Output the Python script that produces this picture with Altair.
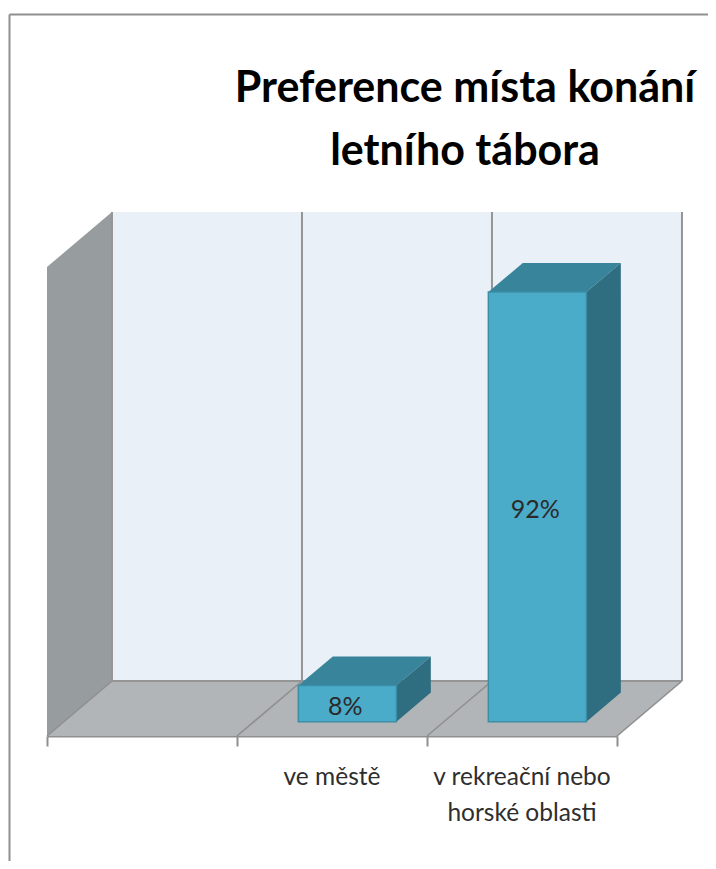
import altair as alt
import pandas as pd

category_lines = [[""], ["ve městě"], ["v rekreační nebo", "horské oblasti"]]
bar_slots = [1, 2]
bar_values = [7.7, 91.6]
bar_labels = ["8%", "92%"]
title_lines = ["Preference místa konání", "letního tábora"]

# oblique-projection constants of the 3D box, in data units
DX, DY = 0.342, 11.73
T0, T1 = 0.26, 0.79
BAR_LEFT, BAR_W = 0.234, 0.516
ticks = [0, 1, 2, 3]

xs = alt.Scale(domain=[0, 3], zero=False, nice=False)
ys = alt.Scale(domain=[0, 100], zero=False, nice=False)
x_axis = alt.Axis(values=ticks, labels=False, title=None, grid=False, tickSize=10, tickWidth=2,
                  tickColor="#8f8f8f", domainColor="#8f8f8f", domainWidth=2)
X = lambda f, **k: alt.X(f, type="quantitative", scale=xs, axis=x_axis, **k)
Y = lambda f, **k: alt.Y(f, type="quantitative", scale=ys, axis=None, **k)

back = alt.Chart(pd.DataFrame({"x": [DX], "x2": [3 + DX], "y": [DY], "y2": [100 + DY]})).mark_rect(color="#e9f0f7").encode(
    x=X("x"), x2="x2", y=Y("y"), y2="y2")

left = alt.Chart(pd.DataFrame({"x": [0, DX], "y": [0, DY], "y2": [100, 100 + DY]})).mark_area(color="#979c9e", orient="vertical").encode(
    x=X("x"), y=Y("y"), y2="y2")

floor = alt.Chart(pd.DataFrame({"y": [0, DY], "x": [0, DX], "x2": [3, 3 + DX]})).mark_area(color="#b1b5b8", orient="horizontal").encode(
    y=Y("y"), x=X("x"), x2="x2")

floor_lines = alt.Chart(pd.DataFrame({
    "k": [t for t in ticks for _ in (0, 1)],
    "x": [v for t in ticks for v in (t, t + DX)],
    "y": [0, DY] * 4})).mark_line(color="#8f8f8f", strokeWidth=1.6).encode(
    x=X("x"), y=Y("y"), detail="k:N")

grid = alt.Chart(pd.DataFrame({"x": [t + DX for t in ticks], "y": [DY] * 4, "y2": [100 + DY] * 4})).mark_rule(color="#959595", strokeWidth=2).encode(
    x=X("x"), y=Y("y"), y2="y2")

back_floor = alt.Chart(pd.DataFrame({"x": [DX], "x2": [3 + DX], "y": [DY]})).mark_rule(color="#959595", strokeWidth=2).encode(
    x=X("x"), x2="x2", y=Y("y"))

rows_top, rows_side, rows_front = [], [], []
for slot, v, lab in zip(bar_slots, bar_values, bar_labels):
    l = slot + BAR_LEFT
    r = l + BAR_W
    rows_front.append({"x": l + T0 * DX, "x2": r + T0 * DX, "y": T0 * DY, "y2": v + T0 * DY,
                       "cx": (l + r) / 2 + T0 * DX, "cy": v / 2 + T0 * DY, "label": lab})
    for t in (T0, T1):
        rows_top.append({"b": slot, "y": v + t * DY, "x": l + t * DX, "x2": r + t * DX})
        rows_side.append({"b": slot, "x": r + t * DX, "y": t * DY, "y2": v + t * DY})

top = alt.Chart(pd.DataFrame(rows_top)).mark_area(color="#38849b", orient="horizontal").encode(
    y=Y("y"), x=X("x"), x2="x2", detail="b:N")
side = alt.Chart(pd.DataFrame(rows_side)).mark_area(color="#2f6d80", orient="vertical").encode(
    x=X("x"), y=Y("y"), y2="y2", detail="b:N")
front_df = pd.DataFrame(rows_front)
front = alt.Chart(front_df).mark_rect(color="#4bacc9", stroke="#3b8ea6", strokeWidth=1.5).encode(
    x=X("x"), x2="x2", y=Y("y"), y2="y2")
bar_text = alt.Chart(front_df).mark_text(font="Lato", fontSize=25, color="#2a2a2a", baseline="middle", dx=-2, dy=3).encode(
    x=X("cx"), y=Y("cy"), text="label:N")

cat_df = pd.DataFrame({"x": [i + 0.5 for i in range(3)], "label": category_lines})
cat_text = alt.Chart(cat_df).mark_text(font="Lato", fontSize=24.5, color="#2e2e2e", baseline="top", lineHeight=36).encode(
    x=X("x"), y=alt.value(469 + 30), text="label")

title_df = pd.DataFrame({"label": [title_lines]})
title_text = alt.Chart(title_df).mark_text(font="Lato", fontWeight="bold", fontSize=43, color="#000000", baseline="alphabetic", lineHeight=63).encode(
    x=alt.value(418), y=alt.value(-165), text="label")

frame_l = alt.Chart(pd.DataFrame({"a": [0]})).mark_rule(color="#8f8f8f", strokeWidth=2).encode(
    x=alt.value(-37.5), y=alt.value(-252.5), y2=alt.value(610))
frame_t = alt.Chart(pd.DataFrame({"a": [0]})).mark_rule(color="#8f8f8f", strokeWidth=2).encode(
    x=alt.value(-37.5), x2=alt.value(680), y=alt.value(-252.5))

chart = alt.layer(back, left, floor, floor_lines, grid, back_floor, top, side, front, bar_text, cat_text, title_text, frame_l, frame_t).properties(
    width=570, height=469,
    padding={"left": 39, "top": 259, "right": 91, "bottom": 125},
    autosize=alt.AutoSizeParams(type="none"),
).configure_view(stroke=None).resolve_scale(x="shared", y="shared")

chart.save("out.html", embed_options={"renderer": "svg", "actions": False})
